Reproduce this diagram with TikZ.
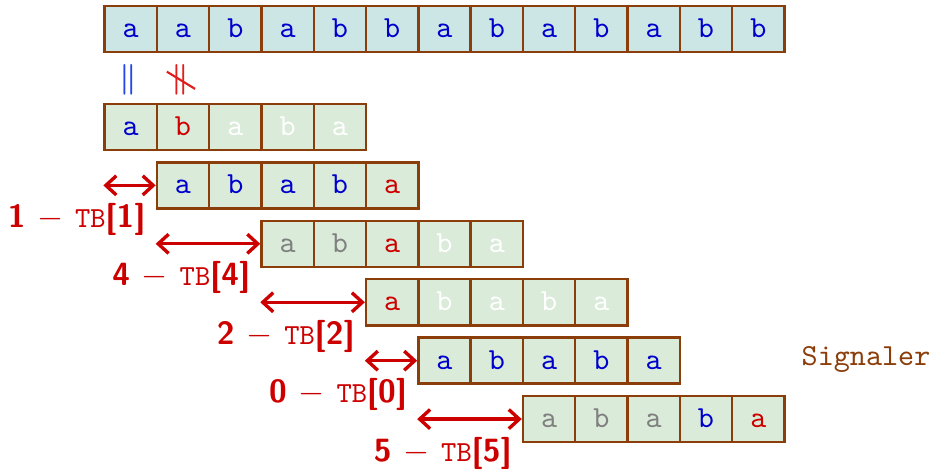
\documentclass[tikz,border=0pt]{standalone}
\usepackage{amssymb}
\usetikzlibrary{positioning,arrows.meta,calc}
\definecolor{edge}{RGB}{140,62,10}
\definecolor{textfill}{RGB}{204,229,229}
\definecolor{patfill}{RGB}{218,235,218}
\definecolor{hit}{RGB}{0,0,205}
\definecolor{miss}{RGB}{205,0,0}
\definecolor{skip}{RGB}{128,128,128}
\definecolor{same}{RGB}{40,70,230}
\definecolor{diff}{RGB}{225,30,30}
\tikzset{
  cell/.style={draw=edge, line width=.8pt, minimum width=.6cm, minimum height=.528cm,
    inner sep=0pt, text height=1.5ex, text depth=.2ex, font=\ttfamily},
  txt/.style={cell, fill=textfill, text=hit},
  pat/.style={cell, fill=patfill},
  jump/.style={miss, line width=1.1pt, {Straight Barb[length=1.2mm,width=2.2mm]}-{Straight Barb[length=1.2mm,width=2.2mm]}},
  lbl/.style={miss, font=\fontsize{10.5}{12}\selectfont\sffamily\bfseries, inner sep=0pt},
  sym/.style={font=\boldmath, inner sep=0pt},
}
\newcommand{\tbl}[1]{#1 $-$ {\mdseries\fontsize{9.5}{11}\selectfont\ttfamily TB}[#1]}
\begin{document}
\begin{tikzpicture}[x=.6cm, y=.6cm]
\useasboundingbox (0,0) rectangle (17.86,-8.987);
\foreach \ch [count=\i] in {a,a,b,a,b,b,a,b,a,b,a,b,b}
  \node[txt] (t\i) at (1.5+\i,-.555) {\ch};
\node[sym, text=same] (eq) at (2.45,-1.53) {$\parallel$};
\node[sym, text=diff] (neq) at (3.45,-1.53) {$\parallel$};
\draw[diff, line width=.7pt] ($(neq.center)+(-.26,.16)$) -- ($(neq.center)+(.28,-.17)$);
\foreach \ch/\col [count=\i] in {a/hit,b/miss,a/white,b/white,a/white}
  \node[pat, text=\col] (r1-\i) at (1.5+\i,-2.428) {\ch};
\foreach \ch/\col [count=\i] in {a/hit,b/hit,a/hit,b/hit,a/miss}
  \node[pat, text=\col] (r2-\i) at (2.5+\i,-3.545) {\ch};
\foreach \ch/\col [count=\i] in {a/skip,b/skip,a/miss,b/white,a/white}
  \node[pat, text=\col] (r3-\i) at (4.5+\i,-4.662) {\ch};
\foreach \ch/\col [count=\i] in {a/miss,b/white,a/white,b/white,a/white}
  \node[pat, text=\col] (r4-\i) at (6.5+\i,-5.78) {\ch};
\foreach \ch/\col [count=\i] in {a/hit,b/hit,a/hit,b/hit,a/hit}
  \node[pat, text=\col] (r5-\i) at (7.5+\i,-6.897) {\ch};
\foreach \ch/\col [count=\i] in {a/skip,b/skip,a/skip,b/hit,a/miss}
  \node[pat, text=\col] (r6-\i) at (9.5+\i,-8.014) {\ch};
\draw[jump] (r1-1.west |- r2-1.west) -- (r2-1.west);
\draw[jump] (r2-1.west |- r3-1.west) -- (r3-1.west);
\draw[jump] (r3-1.west |- r4-1.west) -- (r4-1.west);
\draw[jump] (r4-1.west |- r5-1.west) -- (r5-1.west);
\draw[jump] (r5-1.west |- r6-1.west) -- (r6-1.west);
\node[lbl, below left=.2cm and .11cm of r2-1.west] (l1) {\tbl{1}};
\node[lbl, below left=.2cm and .11cm of r3-1.west] (l4) {\tbl{4}};
\node[lbl, below left=.2cm and .11cm of r4-1.west] (l2) {\tbl{2}};
\node[lbl, below left=.2cm and .11cm of r5-1.west] (l0) {\tbl{0}};
\node[lbl, below left=.2cm and .11cm of r6-1.west] (l5) {\tbl{5}};
\node[font=\ttfamily, text=edge] (sig) at (16.56,-6.88) {Signaler};
\end{tikzpicture}
\end{document}
